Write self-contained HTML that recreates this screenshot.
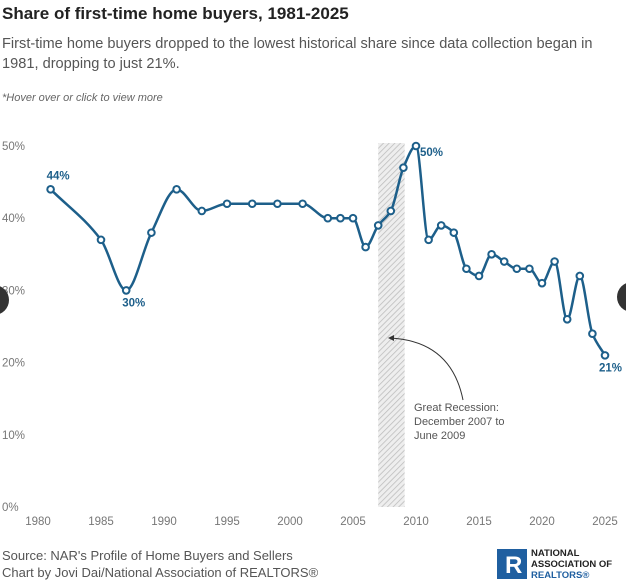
<!DOCTYPE html>
<html><head><meta charset="utf-8"><style>
body{margin:0;width:626px;height:585px;background:#fff;font-family:"Liberation Sans",sans-serif;overflow:hidden;position:relative}
.t{position:absolute;left:2px;top:4px;font-size:17px;font-weight:bold;color:#222}
.s{position:absolute;left:2px;top:34px;font-size:14.6px;line-height:20px;color:#555;width:615px}
.h{position:absolute;left:2px;top:92px;font-size:11px;font-style:italic;color:#666}
.src{position:absolute;left:2px;top:547px;font-size:13px;line-height:17px;color:#555}
svg{position:absolute;left:0;top:0}
</style></head><body>
<div class="t">Share of first-time home buyers, 1981-2025</div>
<div class="s">First-time home buyers dropped to the lowest historical share since data collection began in 1981, dropping to just 21%.</div>
<div class="h">*Hover over or click to view more</div>
<div class="src">Source: NAR's Profile of Home Buyers and Sellers<br>Chart by Jovi Dai/National Association of REALTORS®</div>
<svg width="626" height="585" id="chart">
<defs><pattern id="hatch" width="4" height="4" patternUnits="userSpaceOnUse" patternTransform="rotate(45)"><rect width="4" height="4" fill="#eee"/><line x1="0" y1="0" x2="0" y2="4" stroke="#bbb" stroke-width="1.5"/></pattern></defs>
<g id="g"></g>
<g>
<rect x="497" y="549" width="30" height="30" fill="#1f5fa0"/>
<text x="505" y="573" font-size="24" font-weight="bold" fill="#fff" font-family="Liberation Sans">R</text>
<text x="531" y="556" font-size="9.5" font-weight="bold" fill="#222">NATIONAL</text>
<text x="531" y="567" font-size="9.5" font-weight="bold" fill="#222">ASSOCIATION OF</text>
<text x="531" y="578" font-size="9.5" font-weight="bold" fill="#1f5fa0">REALTORS®</text>
</g>
<circle cx="-6" cy="300" r="15" fill="#333"/>
<circle cx="632" cy="297" r="15" fill="#333"/>
</svg>
<script>
const years=[1981,1985,1987,1989,1991,1993,1995,1997,1999,2001,2003,2004,2005,2006,2007,2008,2009,2010,2011,2012,2013,2014,2015,2016,2017,2018,2019,2020,2021,2022,2023,2024,2025];
const shares=[44,37,30,38,44,41,42,42,42,42,40,40,40,36,39,41,47,50,37,39,38,33,32,35,34,33,33,31,34,26,32,24,21];
const yTicks=[0,10,20,30,40,50];
const xTicks=[1980,1985,1990,1995,2000,2005,2010,2015,2020,2025];
const recession=[2007,2009.1];
const NS="http://www.w3.org/2000/svg";
const X=y=>38+(y-1980)*12.6, Y=v=>507-v*7.22;
const g=document.getElementById('g');
function mk(t,a,p){const e=document.createElementNS(NS,t);for(const k in a)e.setAttribute(k,a[k]);(p||g).appendChild(e);return e;}
let r=mk('rect',{x:X(recession[0]),y:143,width:X(recession[1])-X(recession[0]),height:507-143,fill:'url(#hatch)'});


yTicks.forEach(v=>{const t=mk('text',{x:2,y:Y(v)+4,'font-size':11.5,fill:'#777'});t.textContent=v+'%';

});
xTicks.forEach(v=>{const t=mk('text',{x:X(v),y:525,'font-size':11.5,fill:'#777','text-anchor':'middle'});t.textContent=v;

});
const px=years.map(X),py=shares.map(Y),n=px.length;
const d=[],m=[];for(let i=0;i<n-1;i++)d.push((py[i+1]-py[i])/(px[i+1]-px[i]));
m[0]=d[0];m[n-1]=d[n-2];for(let i=1;i<n-1;i++)m[i]=d[i-1]*d[i]<=0?0:(2/(1/d[i-1]+1/d[i]));
let p='M'+px[0]+','+py[0];
for(let i=0;i<n-1;i++){const h=(px[i+1]-px[i])/3;p+=`C${px[i]+h},${py[i]+m[i]*h} ${px[i+1]-h},${py[i+1]-m[i+1]*h} ${px[i+1]},${py[i+1]}`;}
const line=mk('path',{d:p,fill:'none',stroke:'#1d5f8a','stroke-width':2.5});


years.forEach((yr,i)=>{const c=mk('circle',{cx:X(yr),cy:Y(shares[i]),r:3.3,fill:'#fff',stroke:'#1d5f8a','stroke-width':2});

});
function lab(i,dx,dy,anc){const t=mk('text',{x:X(years[i])+dx,y:Y(shares[i])+dy,'font-size':11.5,'font-weight':'bold',fill:'#1d5f8a','text-anchor':anc||'start'});t.textContent=shares[i]+'%';

}
lab(0,-4,-10);lab(2,-4,16,'start');lab(17,4,10);lab(32,-6,16);
const a=mk('path',{d:'M463,400 C455,360 430,340 390,338',fill:'none',stroke:'#333','stroke-width':1});


const ah=mk('path',{d:'M388,338 L394,335 L394,341 Z',fill:'#333'});


['Great Recession:','December 2007 to','June 2009'].forEach((s,i)=>{const t=mk('text',{x:414,y:411+i*14,'font-size':11,fill:'#555'});t.textContent=s;

});
</script>
</body></html>
